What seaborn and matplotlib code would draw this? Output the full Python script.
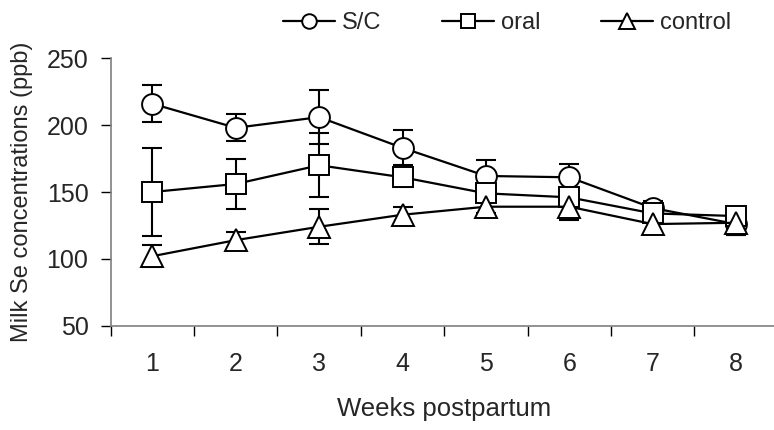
import numpy as np
import pandas as pd
import matplotlib
matplotlib.use("Agg")
import matplotlib.pyplot as plt
import seaborn as sns
from matplotlib.lines import Line2D

# ---- data ----
weeks = [1, 2, 3, 4, 5, 6, 7, 8]
groups = ["S/C", "oral", "control"]
sc_vals = [216, 198, 206, 183, 162, 161, 138, 126]
sc_se = [14, 10, 20, 13, 12, 10, 5, 8]
oral_vals = [150, 156, 170, 161, 149, 146, 134, 132]
oral_se = [33, 19, 24, 7, 6, 6, 5, 7]
control_vals = [102, 114, 124, 133, 139, 139, 126, 127]
control_se = [8, 6, 13, 6, 5, 10, 7, 9]
yticks = [50, 100, 150, 200, 250]
xlabel = "Weeks postpartum"
ylabel = "Milk Se concentrations (ppb)"

sns.set_style("white")
plt.rcParams["font.family"] = ["Liberation Sans", "DejaVu Sans"]

fig = plt.figure(figsize=(7.74, 4.30), dpi=100)
ax = fig.add_axes([110.7 / 774, 1 - 325.7 / 430, 667.1 / 774, 267.4 / 430])

series = {
    "S/C": (sc_vals, sc_se, "o"),
    "oral": (oral_vals, oral_se, "s"),
    "control": (control_vals, control_se, "^"),
}

handles = []
for name in groups:
    vals, se, mk = series[name]
    df = pd.DataFrame({"week": weeks, "value": vals})
    ax.errorbar(weeks, vals, yerr=se, fmt="none", ecolor="black",
                elinewidth=1.5, capsize=7.5, capthick=1.5, zorder=2)
    sns.lineplot(data=df, x="week", y="value", ax=ax, color="black",
                 marker=mk, markersize=15 if mk != "^" else 16,
                 markerfacecolor="white", markeredgecolor="black",
                 markeredgewidth=1.4, linewidth=1.6, zorder=3,
                 legend=False)
    handles.append(Line2D([], [], color="black", marker=mk,
                          markersize=10.5 if mk != "^" else 11.5,
                          markerfacecolor="white", markeredgecolor="black",
                          markeredgewidth=1.4, linewidth=1.6, label=name))

ax.set_xlim(0.5, 8.5)
ax.set_ylim(50, 250)
ax.set_yticks(yticks)
ax.set_yticklabels([str(v) for v in yticks], fontsize=18)

# boundary ticks (major) and labels at category centers (minor)
ax.set_xticks(np.arange(0.5, 9.0, 1.0))
ax.set_xticklabels([])
ax.set_xticks(weeks, minor=True)
ax.set_xticklabels([str(w) for w in weeks], minor=True, fontsize=18)
ax.tick_params(axis="x", which="major", direction="out", length=7,
               width=1, color="black", bottom=True)
ax.tick_params(axis="x", which="minor", length=0, pad=19)
ax.tick_params(axis="y", which="major", direction="out", length=7,
               width=1, color="black", left=True, pad=9)

for s in ["top", "right"]:
    ax.spines[s].set_visible(False)
for s in ["left", "bottom"]:
    ax.spines[s].set_color("#7f7f7f")
    ax.spines[s].set_linewidth(1.2)

ax.set_xlabel(xlabel, fontsize=18.5, labelpad=15)
ax.set_ylabel(ylabel, fontsize=17, labelpad=10)
ax.grid(False)

fig.legend(handles=handles, loc="center", bbox_to_anchor=(507 / 774, 1 - 23 / 430),
           ncol=3, frameon=False, fontsize=17, handlelength=2.2,
           handletextpad=0.3, columnspacing=2.55, borderaxespad=0)

fig.savefig("out.png", dpi=100)
